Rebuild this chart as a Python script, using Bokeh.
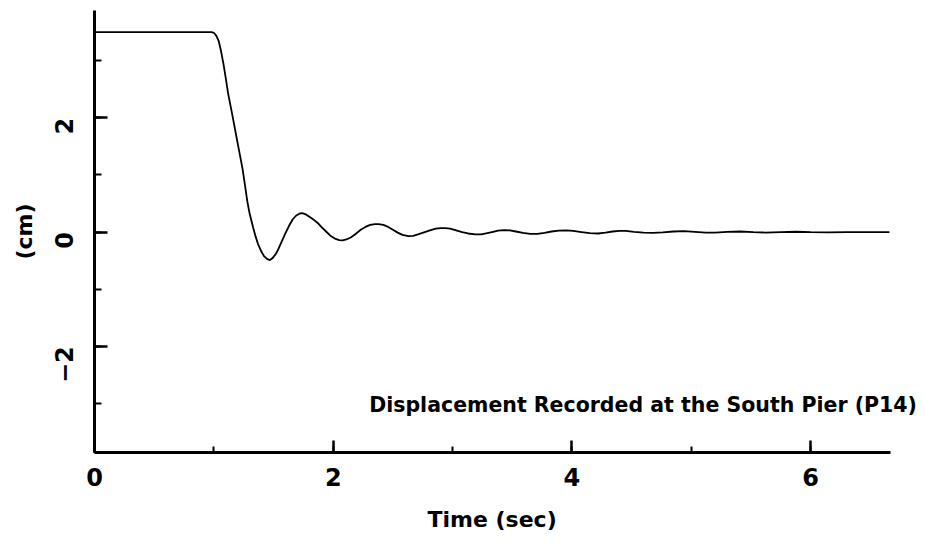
import math
from bokeh.plotting import figure
from bokeh.models import Range1d, SingleIntervalTicker, Label, Title
from bokeh.embed import file_html
from bokeh.resources import INLINE

# Time (sec) and displacement (cm)
time_s = [0.00, 0.98, 1.00, 1.02, 1.04, 1.06, 1.08, 1.10, 1.12, 1.15, 1.18, 1.21,
          1.24, 1.26, 1.28, 1.30, 1.33, 1.35, 1.37, 1.40, 1.42, 1.445, 1.47, 1.49,
          1.52, 1.54, 1.57, 1.60, 1.63, 1.66, 1.69, 1.72, 1.74, 1.77, 1.80, 1.84,
          1.87, 1.90, 1.94, 1.98, 2.02, 2.05, 2.08, 2.11, 2.15, 2.19, 2.23, 2.27,
          2.31, 2.35, 2.38, 2.42, 2.46, 2.50, 2.54, 2.58, 2.63, 2.67, 2.71, 2.76,
          2.81, 2.86, 2.90, 2.94, 2.98, 3.03, 3.08, 3.13, 3.19, 3.24, 3.29, 3.34,
          3.38, 3.43, 3.48, 3.53, 3.59, 3.65, 3.71, 3.77, 3.83, 3.89, 3.95, 4.01,
          4.08, 4.15, 4.22, 4.28, 4.34, 4.40, 4.45, 4.52, 4.60, 4.68, 4.76, 4.85,
          4.94, 5.03, 5.12, 5.20, 5.30, 5.41, 5.52, 5.62, 5.75, 5.88, 6.00, 6.15,
          6.30, 6.45, 6.66]
disp_cm = [3.50, 3.50, 3.49, 3.44, 3.35, 3.17, 2.95, 2.69, 2.42, 2.10, 1.77, 1.44,
           1.11, 0.83, 0.54, 0.32, 0.07, -0.08, -0.21, -0.35, -0.42, -0.47, -0.49, -0.46,
           -0.38, -0.30, -0.16, -0.02, 0.11, 0.22, 0.29, 0.325, 0.33, 0.31, 0.27, 0.21,
           0.16, 0.09, 0.01, -0.07, -0.12, -0.14, -0.145, -0.13, -0.09, -0.03, 0.04, 0.09,
           0.125, 0.14, 0.14, 0.125, 0.09, 0.04, -0.01, -0.05, -0.07, -0.065, -0.04, -0.005,
           0.03, 0.06, 0.07, 0.07, 0.06, 0.03, 0.00, -0.025, -0.04, -0.04, -0.02, 0.005,
           0.025, 0.035, 0.03, 0.01, -0.015, -0.03, -0.03, -0.015, 0.01, 0.025, 0.03, 0.02,
           0.00, -0.02, -0.025, -0.01, 0.01, 0.02, 0.02, 0.005, -0.01, -0.015, -0.005, 0.01,
           0.015, 0.005, -0.01, -0.01, 0.005, 0.01, 0.00, -0.008, 0.00, 0.006, 0.00, -0.004,
           0.00, 0.00, 0.00]

x_title = "Time (sec)"
y_title = "(cm)"
note = "Displacement Recorded at the South Pier (P14)"

FONT = "DejaVu Sans"

# The frame reaches past the axis end so that the note is not clipped;
# the x axis line itself stops at 6.67 via its bounds.
p = figure(width=925, height=548, output_backend="svg", toolbar_location=None,
           x_range=Range1d(0, 6.92), y_range=Range1d(-3.86, 3.88),
           min_border_left=94, min_border_right=5, min_border_top=10,
           min_border_bottom=0)
p.outline_line_color = None
p.grid.visible = False
p.background_fill_color = "white"
p.border_fill_color = "white"

p.line(time_s, disp_cm, line_color="black", line_width=1.8)

for ax in (p.xaxis[0], p.yaxis[0]):
    ax.ticker = SingleIntervalTicker(interval=2, num_minor_ticks=2)
    ax.axis_line_width = 3
    ax.axis_line_color = "black"
    ax.major_tick_line_width = 2.5
    ax.minor_tick_line_width = 2
    ax.major_tick_out = 0
    ax.minor_tick_out = 0
    ax.major_label_text_font = FONT
    ax.major_label_text_font_size = "24px"
    ax.major_label_text_font_style = "bold"
    ax.major_label_text_color = "black"
    ax.axis_label_text_font = FONT
    ax.axis_label_text_font_size = "22px"
    ax.axis_label_text_font_style = "bold"
    ax.axis_label_text_color = "black"

p.xaxis.bounds = (0, 6.67)
p.xaxis.major_tick_in = 12
p.xaxis.minor_tick_in = 6
p.xaxis.major_label_standoff = 15

p.yaxis.major_tick_in = 13
p.yaxis.minor_tick_in = 7
p.yaxis.major_label_orientation = math.pi / 2
p.yaxis.major_label_standoff = 30
p.yaxis.axis_label = y_title
p.yaxis.axis_label_standoff = 7

# x-axis title placed below the axis, centred under the axis line (not the frame)
xt = Title(text=x_title, align="left", offset=333, standoff=33,
           text_font=FONT, text_font_size="22px", text_font_style="bold",
           text_color="black")
p.add_layout(xt, "below")

lbl = Label(x=6.89, y=-3.03, text=note, text_align="right", text_baseline="middle",
            text_font=FONT, text_font_size="20.5px", text_font_style="bold",
            text_color="black")
p.add_layout(lbl)

open("out.html", "w").write(file_html(p, INLINE))
